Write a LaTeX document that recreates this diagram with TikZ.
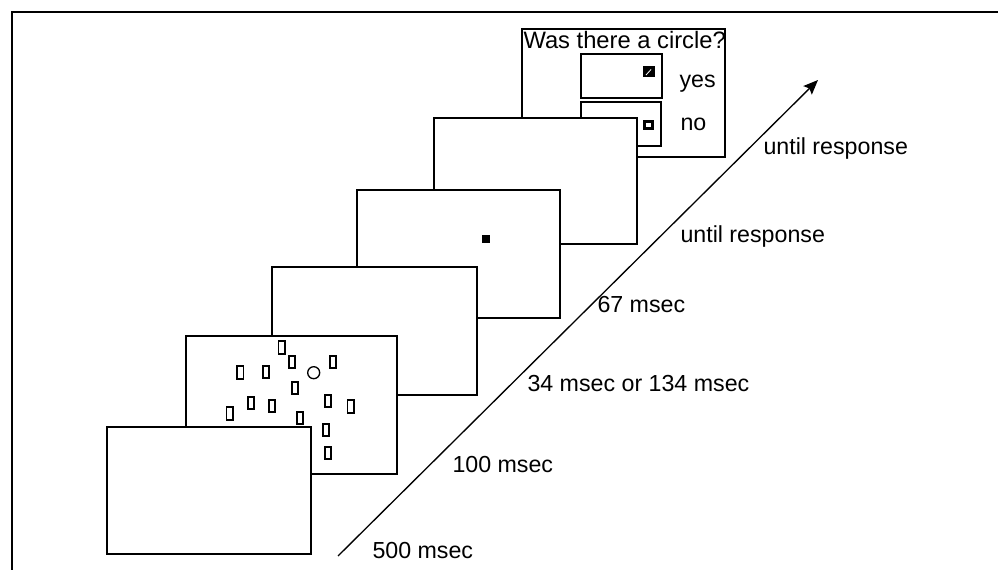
\documentclass[tikz,border=0pt]{standalone}
\usepackage{fontspec}
\setmainfont{Liberation Sans}
\usetikzlibrary{arrows.meta}

\tikzset{every picture/.style={line width=0.75pt}}
\tikzset{
  screen/.style={draw=black, fill=white, line width=1pt},
  item/.style={draw=black, fill=white, line width=1.3pt},
  lbl/.style={font=\fontsize{17.4}{20}\selectfont, inner sep=0pt, anchor=base west}
}

\begin{document}
\begin{tikzpicture}[x=0.75pt,y=0.75pt,yscale=-1,xscale=1]
\useasboundingbox (0,0) rectangle (998,570);

%Frame of the figure
\draw [line width=1.6pt] (12,570) -- (12,12) -- (998,12) ;

%Shape: Rectangle [response screen]
\draw [screen] (522,29) rectangle (725,157) ;
\node [lbl, font=\fontsize{17.8}{20}\selectfont] (question) at (523,49) {Was there a circle?};
%Shape: Rectangle [yes key]
\draw [screen] (581,54) rectangle (662,98) ;
\draw [fill=black] (643,67) rectangle (654,77) ;
\draw [white, line width=0.6pt] (646,75) -- (651,69.5) ;
\node [lbl] (yes) at (679,88) {yes};
%Shape: Rectangle [no key]
\draw [screen] (581,102) rectangle (661,146) ;
\draw [line width=2.2pt] (644.5,121.5) rectangle (652.5,128.5) ;
\node [lbl] (no) at (680,131) {no};

%Shape: Rectangle [mask screen]
\draw [screen] (434,118) rectangle (637,244) ;

%Shape: Rectangle [fixation screen]
\draw [screen] (357,190) rectangle (560,318) ;
\draw [fill=black] (482,235) rectangle (489,242) ;

%Shape: Rectangle [blank screen]
\draw [screen] (272,267) rectangle (477,395) ;

%Shape: Rectangle [search screen]
\draw [screen] (186,336) rectangle (397,474) ;
\draw [item] (278.5,341) rectangle (285,354) ;
\draw [item] (289,356) rectangle (295,368) ;
\draw [item] (330,356) rectangle (336,368) ;
\draw [item] (237,366) rectangle (243.5,379) ;
\draw [item] (263,366) rectangle (269,378) ;
\draw [item] (292,382) rectangle (298,394) ;
\draw [item] (248,397) rectangle (254,409) ;
\draw [item] (269,400) rectangle (275,412) ;
\draw [item] (325,395) rectangle (331,407) ;
\draw [item] (347.5,400) rectangle (354,413) ;
\draw [item] (226.5,407) rectangle (233,420) ;
\draw [item] (297,412) rectangle (303,424) ;
\draw [item] (323,424) rectangle (329,436) ;
\draw [item] (325,447) rectangle (331,459) ;
%Shape: Circle [target]
\draw [line width=1pt] (313.7,372.7) circle (6) ;

%Shape: Rectangle [first screen]
\draw [screen] (107,427) rectangle (311,554) ;

%Straight Lines [time axis]
\coordinate (tstart) at (338,556) ;
\coordinate (tend) at (818,80) ;
\draw [line width=1pt, -{Stealth[length=11pt,width=9pt,inset=2pt]}] (tstart) -- (tend) ;

\node [lbl] (t1) at (372,558) {500 msec};
\node [lbl] (t2) at (452,472) {100 msec};
\node [lbl] (t3) at (527,391) {34 msec or 134 msec};
\node [lbl] (t4) at (597,312) {67 msec};
\node [lbl] (t5) at (680,243) {until response};
\node [lbl] (t6) at (763,155) {until response};
\end{tikzpicture}
\end{document}
